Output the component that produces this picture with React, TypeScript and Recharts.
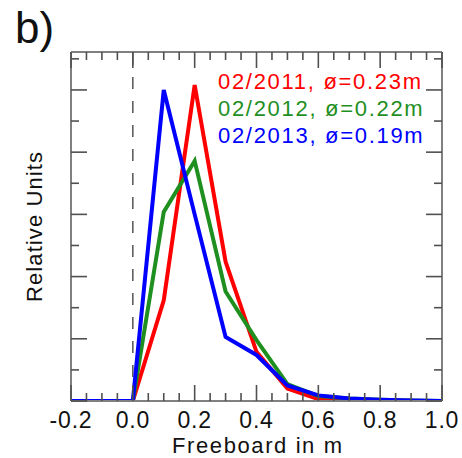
import { Legend, Line, LineChart, ReferenceLine, XAxis, YAxis } from 'recharts'

const freeboard = [-0.2, -0.1, 0.0, 0.1, 0.2, 0.3, 0.4, 0.5, 0.6, 0.7, 0.8, 0.9, 1.0]
const feb2011 = [0, 0, 0, 1.62, 5.08, 2.24, 0.79, 0.2, 0.03, 0.01, 0.005, 0, 0]
const feb2012 = [0, 0, 0, 3.04, 3.86, 1.76, 0.98, 0.27, 0.08, 0.04, 0.02, 0.01, 0]
const feb2013 = [0, 0, 0, 5.0, 3.0, 1.03, 0.74, 0.25, 0.09, 0.04, 0.02, 0.01, 0]

const seriesNames = ['02/2011, ø=0.23m', '02/2012, ø=0.22m', '02/2013, ø=0.19m']
const seriesColors = ['#ff0000', '#1f8f1f', '#0000ff']

const xTicks = [
  -0.2, -0.15, -0.1, -0.05, 0, 0.05, 0.1, 0.15, 0.2, 0.25, 0.3, 0.35, 0.4, 0.45, 0.5, 0.55, 0.6, 0.65,
  0.7, 0.75, 0.8, 0.85, 0.9, 0.95, 1.0,
]
const xMajorTicks = [-0.2, 0, 0.2, 0.4, 0.6, 0.8, 1.0]
// the top axis has no dataKey, so it runs over the row index (0..12 = -0.2..1.0)
const topTicks = [
  0, 0.5, 1, 1.5, 2, 2.5, 3, 3.5, 4, 4.5, 5, 5.5, 6, 6.5, 7, 7.5, 8, 8.5, 9, 9.5, 10, 10.5, 11, 11.5, 12,
]
const topMajorTicks = [0, 2, 4, 6, 8, 10, 12]
const yTicks = [0, 0.5, 1, 1.5, 2, 2.5, 3, 3.5, 4, 4.5, 5, 5.5]
const yMajorTicks = [0, 1, 2, 3, 4, 5]
const Y_MAX = 5.61

const FONT = '"Liberation Sans", Arial, Helvetica, sans-serif'
const TICK_COLOR = '#505050'
const FRAME = { stroke: '#808080', strokeWidth: 2 }

const isIn = (list: number[], v: number) => list.some((m) => Math.abs(m - v) < 1e-6)

const chartData = freeboard.map((x, i) => ({
  x,
  y2011: feb2011[i],
  y2012: feb2012[i],
  y2013: feb2013[i],
}))

const BottomTick = (props: any) => {
  const { x, y, payload } = props
  const major = isIn(xMajorTicks, payload.value)
  return (
    <g>
      <line x1={x} x2={x} y1={y} y2={y - (major ? 16 : 8)} stroke={TICK_COLOR} strokeWidth={1.6} />
      {major && (
        <text
          x={x}
          y={y + 27}
          textAnchor="middle"
          fontFamily={FONT}
          fontSize={23}
          letterSpacing={0.8}
          fill="#111"
        >
          {payload.value.toFixed(1)}
        </text>
      )}
    </g>
  )
}

const TopTick = (props: any) => {
  const { x, y, payload } = props
  const major = isIn(topMajorTicks, payload.value)
  return <line x1={x} x2={x} y1={y} y2={y + (major ? 16 : 8)} stroke={TICK_COLOR} strokeWidth={1.6} />
}

const LeftTick = (props: any) => {
  const { x, y, payload } = props
  const major = isIn(yMajorTicks, payload.value)
  return <line x1={x} x2={x + (major ? 16 : 8)} y1={y} y2={y} stroke={TICK_COLOR} strokeWidth={1.6} />
}

const RightTick = (props: any) => {
  const { x, y, payload } = props
  const major = isIn(yMajorTicks, payload.value)
  return <line x1={x} x2={x - (major ? 16 : 8)} y1={y} y2={y} stroke={TICK_COLOR} strokeWidth={1.6} />
}

const LegendBox = () => (
  <div style={{ fontFamily: FONT, fontSize: 22, lineHeight: '27px', letterSpacing: 1.7, whiteSpace: 'nowrap' }}>
    {seriesNames.map((name, i) => (
      <div key={name} style={{ color: seriesColors[i] }}>
        {name}
      </div>
    ))}
  </div>
)

const App = () => {
  return (
    <div style={{ position: 'absolute', left: 0, top: 0, width: 462, height: 458, background: '#fff' }}>
      <style>{'body{margin:0;background:#fff}'}</style>
      <div
        style={{
          position: 'absolute',
          left: 15,
          top: 6,
          fontFamily: FONT,
          fontSize: 44,
          lineHeight: '44px',
          color: '#111',
        }}
      >
        b)
      </div>
      <LineChart width={462} height={458} data={chartData} margin={{ top: 51, right: 19, bottom: 0, left: 0 }}>
        <XAxis
          dataKey="x"
          type="number"
          domain={[-0.2, 1.0]}
          ticks={xTicks}
          interval={0}
          height={57}
          tickSize={0}
          tickMargin={0}
          tickLine={false}
          axisLine={FRAME}
          tick={<BottomTick />}
          allowDataOverflow
          label={() => (
            <text x={257} y={453} textAnchor="middle" fontFamily={FONT} fontSize={22} textLength={170} fill="#111">
              Freeboard in m
            </text>
          )}
        />
        <XAxis
          xAxisId="top"
          type="number"
          orientation="top"
          domain={[0, 12]}
          ticks={topTicks}
          interval={0}
          height={1}
          tickSize={0}
          tickMargin={0}
          tickLine={false}
          axisLine={FRAME}
          tick={<TopTick />}
          allowDataOverflow
        />
        <YAxis
          type="number"
          domain={[0, Y_MAX]}
          ticks={yTicks}
          interval={0}
          width={71}
          tickSize={0}
          tickMargin={0}
          tickLine={false}
          axisLine={FRAME}
          tick={<LeftTick />}
          allowDataOverflow
          label={() => (
            <text
              transform="translate(42,227) rotate(-90)"
              textAnchor="middle"
              fontFamily={FONT}
              fontSize={22}
              textLength={150}
              fill="#111"
            >
              Relative Units
            </text>
          )}
        />
        <YAxis
          yAxisId="right"
          type="number"
          orientation="right"
          domain={[0, Y_MAX]}
          ticks={yTicks}
          interval={0}
          width={1}
          tickSize={0}
          tickMargin={0}
          tickLine={false}
          axisLine={FRAME}
          tick={<RightTick />}
          allowDataOverflow
        />
        <ReferenceLine x={0} stroke="#555" strokeWidth={1.5} strokeDasharray="12 12" />
        <Legend
          layout="vertical"
          align="center"
          verticalAlign="middle"
          content={<LegendBox />}
          wrapperStyle={{ top: 68, left: 218, width: 'auto', height: 'auto' }}
        />
        <Line
          type="linear"
          dataKey="y2011"
          name={seriesNames[0]}
          stroke={seriesColors[0]}
          strokeWidth={4}
          dot={false}
          isAnimationActive={false}
        />
        <Line
          type="linear"
          dataKey="y2012"
          name={seriesNames[1]}
          stroke={seriesColors[1]}
          strokeWidth={4}
          dot={false}
          isAnimationActive={false}
        />
        <Line
          type="linear"
          dataKey="y2013"
          name={seriesNames[2]}
          stroke={seriesColors[2]}
          strokeWidth={4}
          dot={false}
          isAnimationActive={false}
        />
      </LineChart>
    </div>
  )
}

export default App
